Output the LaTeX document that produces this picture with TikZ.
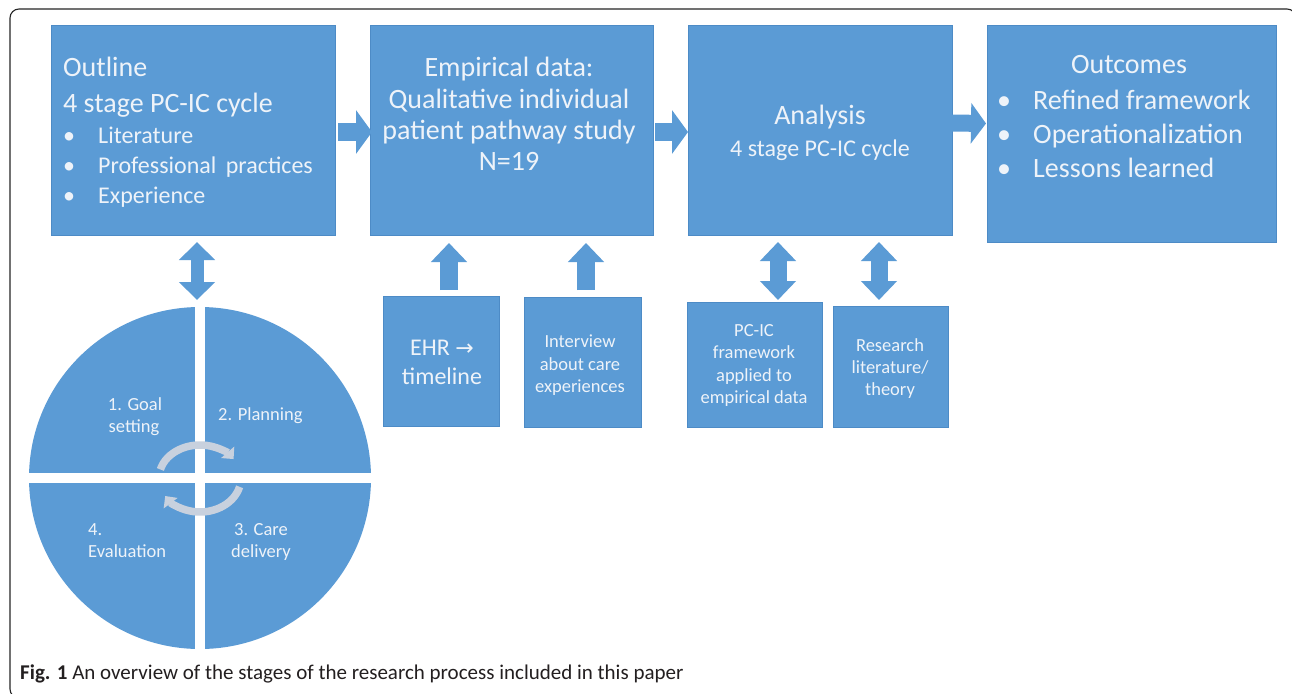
\documentclass[tikz,border=0pt]{standalone}
\usepackage{fontspec}
\setmainfont{Carlito}
\newfontfamily\symfont{DejaVu Sans}
\usetikzlibrary{arrows.meta,calc}
\definecolor{boxblue}{HTML}{5B9BD5}
\definecolor{boxedge}{HTML}{4D8BC6}
\definecolor{txt}{HTML}{EEF3F9}
\definecolor{cyc}{HTML}{C8D1DE}
\definecolor{capt}{HTML}{231F20}
\tikzset{
  box/.style={fill=boxblue, draw=boxedge, line width=0.6pt, inner sep=0pt, outer sep=0pt, anchor=north west},
  tbig/.style={text=txt, font=\fontsize{28}{32}\selectfont, inner sep=0pt},
  tmid/.style={text=txt, font=\fontsize{24}{28}\selectfont, inner sep=0pt},
  tsmall/.style={text=txt, font=\fontsize{18.5}{22}\selectfont, inner sep=0pt},
  rarrow/.style={draw=boxblue, line width=18pt, -{Triangle[length=16pt,width=43pt]}},
  uarrow/.style={draw=boxblue, line width=18pt, -{Triangle[length=19pt,width=35pt]}},
  darrow/.style={draw=boxblue, line width=17pt, {Triangle[length=19pt,width=35pt]}-{Triangle[length=19pt,width=35pt]}},
  cycarrow/.style={draw=cyc, line width=7.5pt, -{Triangle[length=9pt,width=17pt]}},
}
\begin{document}
\begin{tikzpicture}[x=1pt,y=1pt]
\useasboundingbox (0,0) rectangle (1292,-693);
\fill[white] (0,0) rectangle (1292,-693);
% frame
\begin{scope}
\clip (0,0) rectangle (1292,-693);
\draw[line width=1.1pt, rounded corners=9pt, black!85] (10,-9) rectangle (1296,-698);
\end{scope}

% main boxes
\node[box, minimum width=284pt, minimum height=210pt] (outline) at (51,-25) {};
\node[box, minimum width=283pt, minimum height=210pt] (emp) at (370,-25) {};
\node[box, minimum width=264pt, minimum height=210pt] (ana) at (688,-25) {};
\node[box, minimum width=289pt, minimum height=217pt] (out) at (987,-25) {};
% lower boxes
\node[box, minimum width=116pt, minimum height=130pt] (ehr) at (383,-296) {};
\node[box, minimum width=117pt, minimum height=130pt] (intv) at (524,-297) {};
\node[box, minimum width=135pt, minimum height=125pt] (pcic) at (687,-302) {};
\node[box, minimum width=115pt, minimum height=121pt] (res) at (833,-306) {};

% outline text
\node[tbig, anchor=base west] (o1) at (63,-77) {Outline};
\node[tbig, anchor=base west] (o2) at (63,-112) {4 stage PC-IC cycle};
\node[tmid, anchor=base west] (ob1) at (63,-143) {•};
\node[tmid, anchor=base west] (ot1) at (98,-143) {Literature};
\node[tmid, anchor=base west] (ob2) at (63,-173) {•};
\node[tmid, anchor=base west] (ot2) at (98,-173) {Professional\, practices};
\node[tmid, anchor=base west] (ob3) at (63,-203) {•};
\node[tmid, anchor=base west] (ot3) at (98,-203) {Experience};

% empirical text
\node[tbig, anchor=base] (e1) at (509,-77) {Empirical data:};
\node[tbig, anchor=base] (e2) at (509,-108) {Qualitative individual};
\node[tbig, anchor=base] (e3) at (509,-139) {patient pathway study};
\node[tbig, anchor=base] (e4) at (509,-170) {N=19};

% analysis text
\node[tbig, anchor=base] (a1) at (820,-124) {Analysis};
\node[tmid, anchor=base] (a2) at (820,-156) {4 stage PC-IC cycle};

% outcomes text
\node[tbig, anchor=base] (u0) at (1129,-74) {Outcomes};
\node[tbig, anchor=base west] (ub1) at (997,-109) {•};
\node[tbig, anchor=base west] (ut1) at (1033,-109) {Refined framework};
\node[tbig, anchor=base west] (ub2) at (997,-143) {•};
\node[tbig, anchor=base west] (ut2) at (1033,-143) {Operationalization};
\node[tbig, anchor=base west] (ub3) at (997,-177) {•};
\node[tbig, anchor=base west] (ut3) at (1033,-177) {Lessons learned};

% lower box texts
\node[tmid, anchor=base] (h1) at (442,-355) {EHR {\symfont\fontsize{22}{26}\selectfont →}};
\node[tmid, anchor=base] (h2) at (442,-384) {timeline};
\node[tsmall, anchor=base] (i1) at (580,-347) {Interview};
\node[tsmall, anchor=base] (i2) at (580,-370) {about care};
\node[tsmall, anchor=base] (i3) at (580,-392) {experiences};
\node[tsmall, anchor=base] (p1) at (754,-336) {PC-IC};
\node[tsmall, anchor=base] (p2) at (754,-358) {framework};
\node[tsmall, anchor=base] (p3) at (754,-381) {applied to};
\node[tsmall, anchor=base] (p4) at (754,-403) {empirical data};
\node[tsmall, anchor=base] (r1) at (890,-351) {Research};
\node[tsmall, anchor=base] (r2) at (890,-373) {literature/};
\node[tsmall, anchor=base] (r3) at (890,-395) {theory};

% circle
\node[circle, fill=boxblue, minimum size=342pt, inner sep=0pt, outer sep=0pt] (cyc) at (200,-478) {};
\draw[white, line width=10pt] ([yshift=2pt]cyc.north) -- ([yshift=-2pt]cyc.south);
\draw[white, line width=10pt] ([xshift=-2pt]cyc.west) -- ([xshift=2pt]cyc.east);
\node[tsmall, anchor=base] (q1a) at (135,-410) {1. Goal};
\node[tsmall, anchor=base] (q1b) at (134,-432) {setting};
\node[tsmall, anchor=base west] (q2) at (218,-420) {2. Planning};
\node[tsmall, anchor=base west] (q4a) at (88,-535) {4.};
\node[tsmall, anchor=base west] (q4b) at (88,-557) {Evaluation};
\node[tsmall, anchor=base] (q3a) at (261,-535) {3. Care};
\node[tsmall, anchor=base] (q3b) at (261,-557) {delivery};
\draw[cycarrow] (cyc.center) ++(165:41 and 33) arc[start angle=165, end angle=35, x radius=41, y radius=33];
\draw[cycarrow] (cyc.center) ++(-15:41 and 34) arc[start angle=-15, end angle=-148, x radius=41, y radius=34];

% block arrows
\draw[rarrow] ($(outline.east)+(3,-2)$) -- ($(emp.west)+(2,-2)$);
\draw[rarrow] ($(emp.east)+(2,-2)$) -- ($(ana.west)+(0,-2)$);
\draw[draw=boxblue, line width=17pt, -{Triangle[length=15pt,width=40pt]}] ($(ana.east)+(0,7)$) -- ($(out.west)+(-1,10)$);
\draw[uarrow] ($(ehr.north)+(8,6)$) -- ($(ehr.north |- emp.south)+(8,-8)$);
\draw[uarrow] ($(intv.north)+(3.5,7)$) -- ($(intv.north |- emp.south)+(3.5,-8)$);
\draw[draw=boxblue, line width=13pt, {Triangle[length=18pt,width=35pt]}-{Triangle[length=18pt,width=35pt]}] ($(outline.south)+(4,-7)$) -- ($(cyc.north)+(-3,7)$);
\draw[darrow] ($(ana.south)+(-42,-7)$) -- ($(pcic.north)+(23.5,2)$);
\draw[darrow] ($(ana.south)+(59,-7)$) -- ($(res.north)+(-11.5,6)$);

% caption
\node[anchor=base west, text=capt, font=\fontsize{21}{24}\selectfont, inner sep=0pt] (cap) at (20,-679) {\textbf{Fig. 1} An overview of the stages of the research process included in this paper};
\end{tikzpicture}
\end{document}
